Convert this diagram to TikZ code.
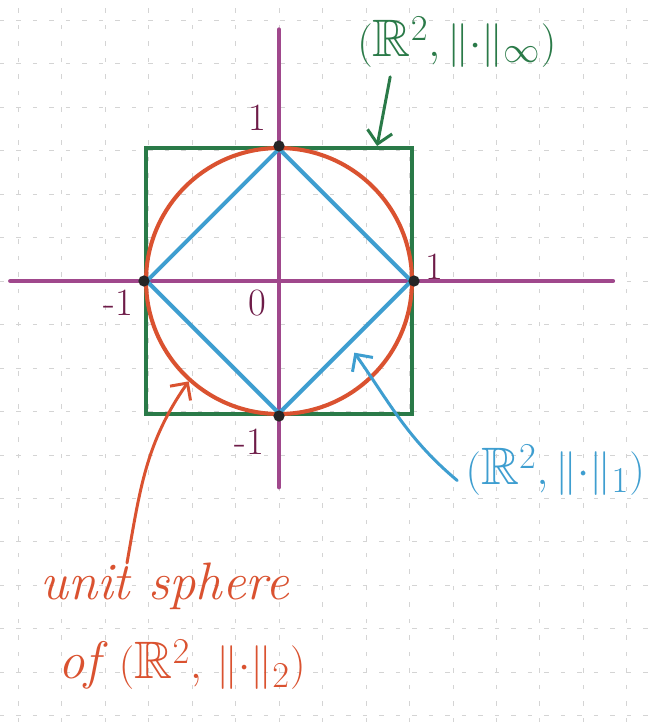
\documentclass[tikz,border=0pt]{standalone}
\usepackage{amsmath,amssymb}
\usepackage{xcolor}
\usepackage{tikz}
\usetikzlibrary{positioning,arrows.meta,shapes.geometric,calc}
\definecolor{penpurple}{RGB}{160,72,140}
\definecolor{penink}{RGB}{110,28,72}
\definecolor{pengreen}{RGB}{42,122,72}
\definecolor{penred}{RGB}{218,82,48}
\definecolor{penblue}{RGB}{62,158,208}
\definecolor{gridgray}{RGB}{212,212,212}
\tikzset{
  gridln/.style={draw=gridgray, line width=0.5pt, dash pattern=on 0.9mm off 2.4mm},
  axis/.style={draw=penpurple, line width=2.6pt, line cap=round},
  ball/.style={inner sep=0pt, line width=2.3pt, minimum width=5.32cm, minimum height=5.32cm},
  num/.style={text=penink, font=\fontsize{22}{26}\selectfont},
  lbl/.style={align=left, inner sep=0pt, font=\fontsize{30}{45}\selectfont\itshape},
  arr/.style={-{Straight Barb[length=2.5mm, width=5mm]}, line width=1.7pt, line cap=round},
  vtx/.style={fill=black!85},
}

\begin{document}
\begin{tikzpicture}[x=2.66cm, y=2.66cm]
    \useasboundingbox[fill=white] (-2.098,-3.316) rectangle (2.835,2.113);
    % squared paper
    \foreach \k in {-6,...,8} \draw[gridln] (\k*0.327,-3.316) -- (\k*0.327,2.113);
    \foreach \k in {-10,...,6} \draw[gridln] (-2.098,\k*0.327) -- (2.835,\k*0.327);
    \draw[axis] (-2.02,0) -- (2.51,0);
    \draw[axis] (0,-1.55) -- (0,1.89);
    % the three unit spheres
    \node[ball, draw=pengreen, rectangle] (linf) at (0,0) {};
    \node[ball, draw=penred, circle] (ltwo) at (0,0) {};
    \node[ball, draw=penblue, diamond] (lone) at (0,0) {};
    \foreach \a in {north,east,south,west} \fill[vtx] (lone.\a) circle (3.2pt);
    \node[num] (n0) at (-0.165,-0.165) {0};
    \node[num] (nx) at (1.17,0.105) {1};
    \node[num] (nmx) at (-1.21,-0.165) {-1};
    \node[num] (ny) at (-0.165,1.225) {1};
    \node[num] (nmy) at (-0.225,-1.21) {-1};
    % labels
    \node[lbl, text=pengreen, anchor=west] (tinf) at (0.586,1.797) {$(\mathbb{R}^2, \|{\cdot}\|_\infty)$};
    \node[lbl, text=penblue, anchor=west] (tone) at (1.40,-1.42) {$(\mathbb{R}^2, \|{\cdot}\|_1)$};
    \node[lbl, text=penred, anchor=north west] (tsph) at (-1.797,-2.12) {unit sphere\\\hspace*{0.36cm}of $(\mathbb{R}^2,\, \|{\cdot}\|_2)$};
    \draw[arr, pengreen] ($(tinf.south west)+(0.25,-0.07)$) -- (linf.54);
    \draw[arr, penblue] ($(tone.west)+(-0.06,-0.08)$) to[out=140, in=-55] ([shift={(0.05,-0.04)}]lone.-44);
    \draw[arr, penred] ($(tsph.north west)+(0.654,0)$) to[out=80, in=235] (ltwo.228);
\end{tikzpicture}
\end{document}
